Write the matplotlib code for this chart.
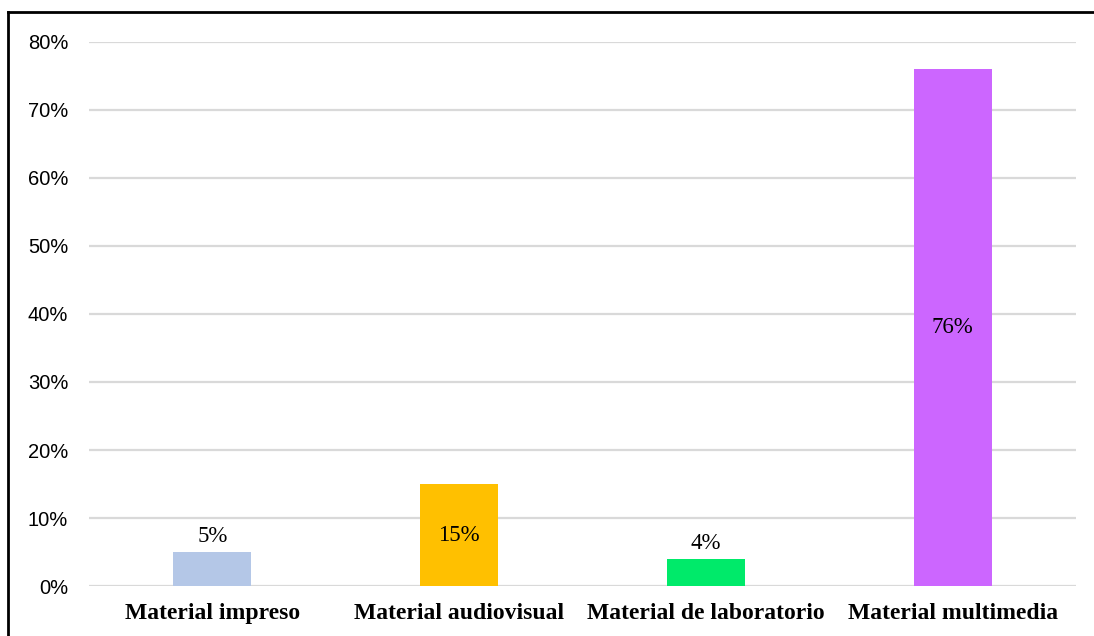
import matplotlib
matplotlib.use('Agg')

from matplotlib import pyplot as plt
from matplotlib.lines import Line2D
from matplotlib.ticker import FuncFormatter

categorias = ["Material impreso", "Material audiovisual",
              "Material de laboratorio", "Material multimedia"]
porcentajes = [5, 15, 4, 76]
colores = ["#B4C7E7", "#FFC000", "#00EA6A", "#CC66FF"]
# etiquetas dentro de la barra (True) o encima (False)
dentro = [False, True, False, True]

fig = plt.figure(figsize=(10.94, 6.36), dpi=100)
ax = fig.add_axes([0.0814, 0.0786, 0.9021, 0.8554])

x = range(len(categorias))
barras = ax.bar(x, porcentajes, width=0.316, color=colores, zorder=3)

ax.set_xlim(-0.5, len(categorias) - 0.5)
ax.set_ylim(0, 80)
ax.set_yticks(range(0, 81, 10))
ax.yaxis.set_major_formatter(FuncFormatter(lambda v, p: "%d%%" % v))
ax.grid(axis='y', color='#D9D9D9', linewidth=1.6, zorder=0)
for s in ax.spines.values():
    s.set_visible(False)
ax.tick_params(length=0)
ax.tick_params(axis='y', pad=15, labelsize=14.5, labelcolor='#000000')
for t in ax.get_yticklabels():
    t.set_fontfamily('Liberation Sans')

ax.set_xticks(list(x))
ax.set_xticklabels(categorias, fontfamily='Liberation Serif',
                   fontweight='bold', fontsize=17)
ax.tick_params(axis='x', pad=12)

for b, v, d in zip(barras, porcentajes, dentro):
    cx = b.get_x() + b.get_width() / 2
    if d:
        ax.text(cx, v / 2, "%d%%" % v, ha='center', va='center',
                fontfamily='Liberation Serif', fontsize=16.5, zorder=4)
    else:
        ax.text(cx, v + 2.3, "%d%%" % v, ha='center', va='center',
                fontfamily='Liberation Serif', fontsize=16.5, zorder=4)

# marco exterior (solo lados superior e izquierdo visibles)
fig.add_artist(Line2D([8 / 1094, 8 / 1094], [0, 1 - 12 / 636],
                      transform=fig.transFigure, color='black', lw=2))
fig.add_artist(Line2D([8 / 1094, 1], [1 - 12 / 636, 1 - 12 / 636],
                      transform=fig.transFigure, color='black', lw=2))

fig.savefig('out.png', dpi=100)
